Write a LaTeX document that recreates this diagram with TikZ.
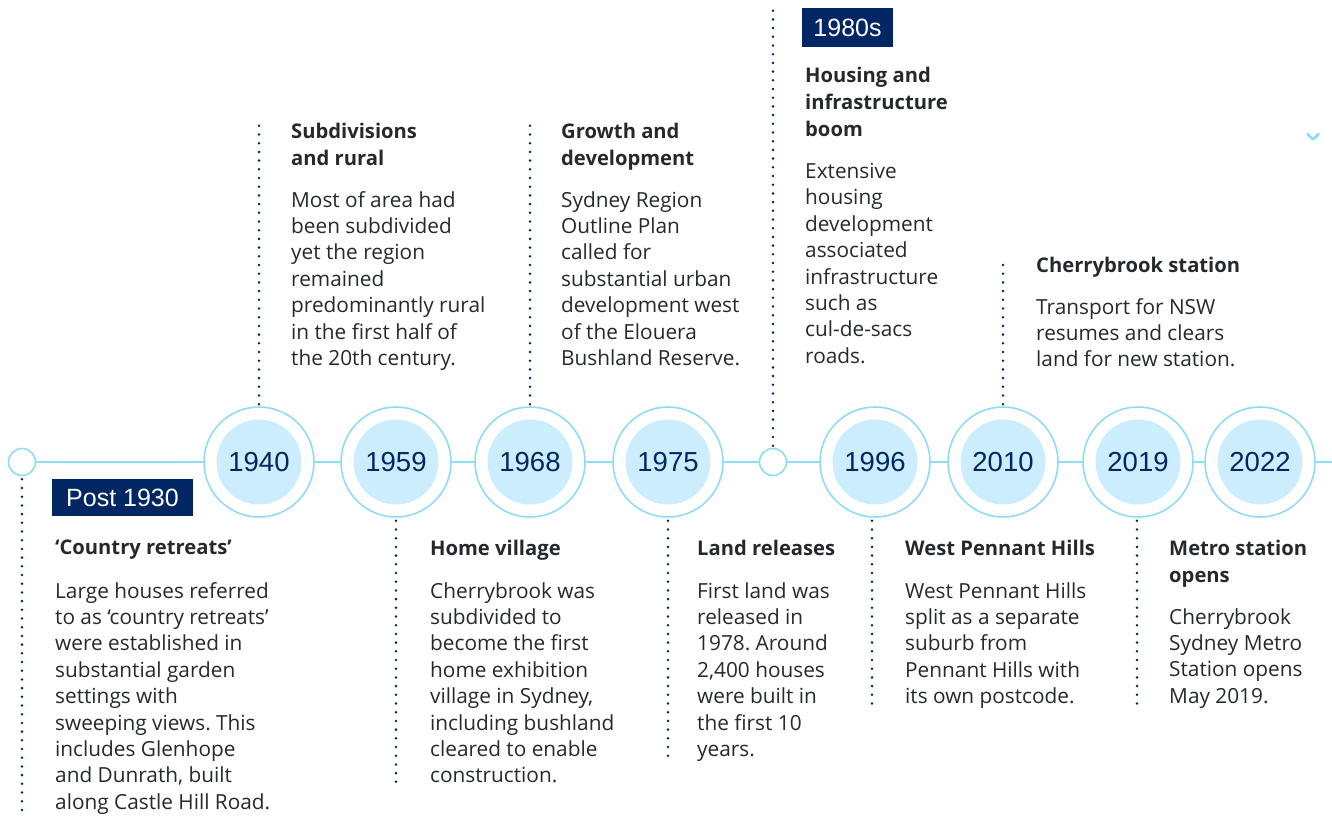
\documentclass[tikz,border=0pt]{standalone}
\usepackage{fontspec}
\setmainfont{Open Sans}
\newfontfamily\yearfont{Liberation Sans}
\usepackage{xcolor}
\usepackage{tikz}
\usetikzlibrary{positioning,calc}

\definecolor{navy}{HTML}{002664}
\definecolor{skyline}{HTML}{8FDBFA}
\definecolor{skyfill}{HTML}{CBEDFD}
\definecolor{inkgray}{HTML}{25292E}

\tikzset{
  yearcirc/.style={circle, draw=skyline, line width=1.6pt, fill=white,
    minimum size=110pt, inner sep=0pt,
    path picture={\fill[skyfill] (path picture bounding box.center) circle (42.5pt);},
    font=\yearfont\fontsize{27.5}{27.5}\selectfont, text=navy},
  smallcirc/.style={circle, draw=skyline, line width=1.6pt, fill=white,
    minimum size=27pt, inner sep=0pt},
  erabox/.style={fill=navy, text=white, inner sep=0pt,
    font=\yearfont\fontsize{25}{25}\selectfont},
  dotline/.style={navy, line width=2.8pt, line cap=round,
    dash pattern=on 0pt off 8.7pt},
  headtxt/.style={anchor=north west, inner sep=0pt, align=left, text=inkgray,
    font=\frenchspacing\bfseries\fontsize{20.2}{26.8}\selectfont},
  bodytxt/.style={anchor=north west, inner sep=0pt, align=left, text=inkgray,
    font=\frenchspacing\fontsize{20.8}{26.4}\selectfont}
}

\begin{document}
\begin{tikzpicture}[x=1pt,y=-1pt]
    \useasboundingbox (0,0) rectangle (1332,816);

    % timeline
    \node[smallcirc] (start) at (22,462) {};
    \coordinate (lineend) at (1332,462);
    \draw[skyline, line width=1.6pt] (start.east) -- (lineend);
    \node[smallcirc] (c1980) at (773,462) {};
    \foreach \yr/\x in {1940/259, 1959/396, 1968/530, 1975/668, 1996/875, 2010/1003, 2019/1138, 2022/1260} {
        \node[yearcirc] (c\yr) at (\x,462) {\yr};
    }

    % era labels
    \node[erabox, minimum width=141pt, minimum height=37pt] (era1930) at (122.5,497.5) {Post 1930};
    \node[erabox, minimum width=91pt, minimum height=39pt] (era1980) at (847.5,27.5) {1980s};

    % dotted leaders
    \coordinate (e1930) at (22,811);
    \coordinate (e1940) at (259,123);
    \coordinate (e1959) at (396,783);
    \coordinate (e1968) at (530,123);
    \coordinate (e1975) at (668,757);
    \coordinate (e1980) at (773,8);
    \coordinate (e1996) at (872,705);
    \coordinate (e2010) at (1003,258);
    \coordinate (e2019) at (1137,705);
    \draw[dotline] ([yshift=-3pt]start.south) -- (e1930);
    \draw[dotline] ([yshift=2pt]c1940.north) -- (e1940);
    \draw[dotline] ([yshift=-3pt]c1959.south) -- (e1959);
    \draw[dotline] ([yshift=2pt]c1968.north) -- (e1968);
    \draw[dotline] ([yshift=-3pt]c1975.south) -- (e1975);
    \draw[dotline] ([yshift=2pt]c1980.north) -- (e1980);
    \draw[dotline] ([xshift=-3pt,yshift=-3pt]c1996.south) -- (e1996);
    \draw[dotline] ([yshift=2pt]c2010.north) -- (e2010);
    \draw[dotline] ([xshift=-1pt,yshift=-3pt]c2019.south) -- (e2019);

    % scroll hint
    \draw[skyline, line width=2.8pt, line cap=round, line join=round]
        (1307.5,134) -- (1313,139.5) -- (1318.5,134);

    % Post 1930
    \node[headtxt] (h1930) at (55,540) {‘Country retreats’};
    \node[bodytxt] (b1930) at (55,582) {Large houses referred\\to as ‘country retreats’\\were established in\\substantial garden\\settings with\\sweeping views. This\\includes Glenhope\\and Dunrath, built\\along Castle Hill Road.};

    % 1940
    \node[headtxt] (h1940) at (291,123) {Subdivisions\\and rural};
    \node[bodytxt] (b1940) at (291,191) {Most of area had\\been subdivided\\yet the region\\remained\\predominantly rural\\in the first half of\\the 20th century.};

    % 1959
    \node[headtxt] (h1959) at (430,540) {Home village};
    \node[bodytxt] (b1959) at (430,582) {Cherrybrook was\\subdivided to\\become the first\\home exhibition\\village in Sydney,\\including bushland\\cleared to enable\\construction.};

    % 1968
    \node[headtxt] (h1968) at (561,123) {Growth and\\development};
    \node[bodytxt] (b1968) at (561,191) {Sydney Region\\Outline Plan\\called for\\substantial urban\\development west\\of the Elouera\\Bushland Reserve.};

    % 1975
    \node[headtxt] (h1975) at (697,540) {Land releases};
    \node[bodytxt] (b1975) at (697,582) {First land was\\released in\\1978. Around\\2,400 houses\\were built in\\the first 10\\years.};

    % 1980s
    \node[headtxt] (h1980) at (805,67) {Housing and\\infrastructure\\boom};
    \node[bodytxt] (b1980) at (805,163) {Extensive\\housing\\development\\associated\\infrastructure\\such as\\cul-de-sacs\\roads.};

    % 1996
    \node[headtxt] (h1996) at (905,540) {West Pennant Hills};
    \node[bodytxt] (b1996) at (905,582) {West Pennant Hills\\split as a separate\\suburb from\\Pennant Hills with\\its own postcode.};

    % 2010
    \node[headtxt] (h2010) at (1036,257) {Cherrybrook station};
    \node[bodytxt] (b2010) at (1036,298) {Transport for NSW\\resumes and clears\\land for new station.};

    % 2019
    \node[headtxt] (h2019) at (1169,540) {Metro station\\opens};
    \node[bodytxt] (b2019) at (1169,608) {Cherrybrook\\Sydney Metro\\Station opens\\May 2019.};
\end{tikzpicture}
\end{document}
